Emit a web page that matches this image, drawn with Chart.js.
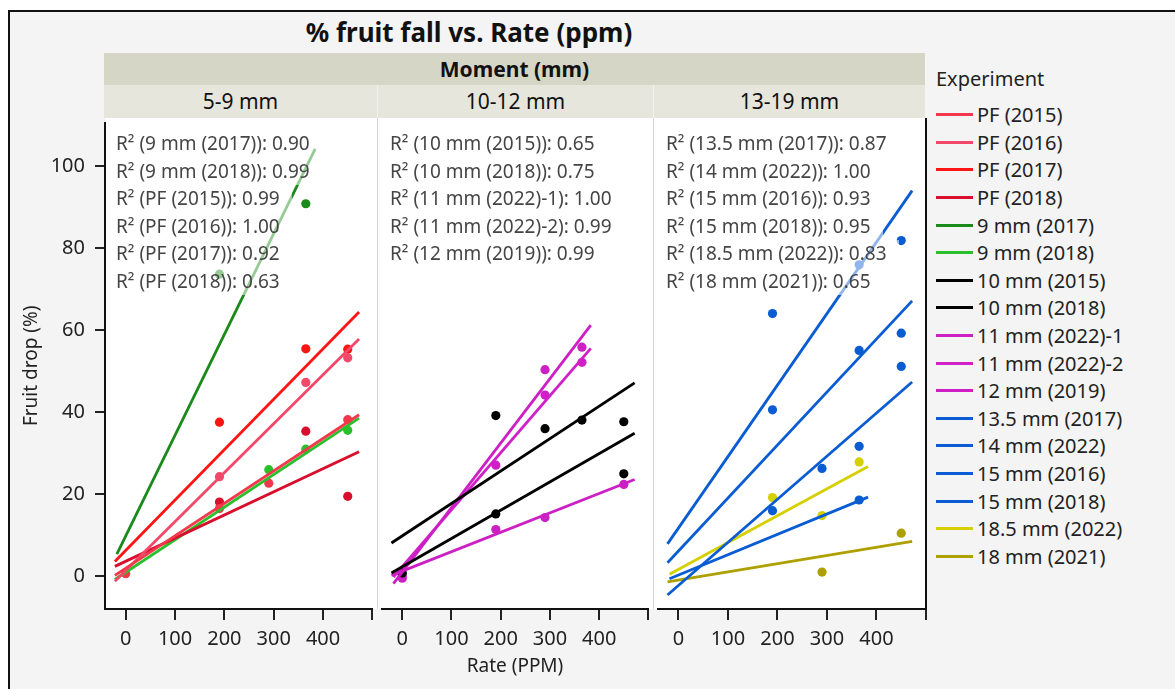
<!DOCTYPE html>
<html><head><meta charset="utf-8">
<script src="https://cdn.jsdelivr.net/npm/chart.js@4.4.1/dist/chart.umd.min.js"></script>
<style>
html,body{margin:0;padding:0;background:#fff;width:1175px;height:689px;overflow:hidden;font-family:"Noto Sans",sans-serif;}
.abs{position:absolute;}
#frame{left:8px;top:10px;width:1200px;height:720px;border:2px solid #111;background:#f4f4f4;box-sizing:border-box;}
#title{left:0;width:938px;top:13px;height:38px;line-height:38px;text-align:center;font-weight:bold;font-size:26px;color:#111;}
#band1{left:104px;top:53px;width:821px;height:32px;line-height:32px;background:#d6d6c7;text-align:center;font-weight:bold;font-size:21px;color:#111;}
.band2{top:85px;height:33px;line-height:33px;background:#e6e6dd;text-align:center;font-size:21px;color:#111;box-sizing:border-box;}
#plotbg{left:105px;top:118px;width:821px;height:491px;background:#fff;}
.sep{top:118px;width:1px;height:491px;background:#d4d4d4;}
#rborder{left:925px;top:118px;width:2px;height:491px;background:#111;}
canvas{position:absolute;}
.note{z-index:5;}
.note div{font-size:19px;line-height:27.5px;height:27.5px;color:#454545;background:rgba(255,255,255,0.55);padding:0 12px 0 0;white-space:nowrap;width:fit-content;}
#legend{left:936px;top:64px;z-index:5;}
#legend .lt{font-size:20px;color:#222;height:30px;line-height:30px;margin-bottom:7px;}
#legend .row{height:27.6px;display:flex;align-items:center;font-size:20px;color:#222;white-space:nowrap;}
#legend .sw{width:37px;height:3px;margin-right:4px;}
</style></head>
<body>
<div id="frame" class="abs"></div>
<div id="title" class="abs">% fruit fall vs. Rate (ppm)</div>
<div id="band1" class="abs">Moment (mm)</div>
<div id="plotbg" class="abs"></div>
<div class="abs sep" style="left:377px"></div>
<div class="abs sep" style="left:653px"></div>
<div id="rborder" class="abs"></div>
<canvas id="c0" width="377" height="571" style="left:0px;top:118px"></canvas>
<canvas id="c1" width="276" height="571" style="left:377px;top:118px"></canvas>
<canvas id="c2" width="282" height="571" style="left:653px;top:118px"></canvas>
<div id="legend" class="abs"></div>
<script>
// ---------- data ----------
const panelNames = ['5-9 mm', '10-12 mm', '13-19 mm'];
const experiments = ['PF (2015)', 'PF (2016)', 'PF (2017)', 'PF (2018)', '9 mm (2017)', '9 mm (2018)',
  '10 mm (2015)', '10 mm (2018)', '11 mm (2022)-1', '11 mm (2022)-2', '12 mm (2019)',
  '13.5 mm (2017)', '14 mm (2022)', '15 mm (2016)', '15 mm (2018)', '18.5 mm (2022)', '18 mm (2021)'];
const experimentPanel = [0, 0, 0, 0, 0, 0, 1, 1, 1, 1, 1, 2, 2, 2, 2, 2, 2];
const rSquared = [0.99, 1.00, 0.92, 0.63, 0.90, 0.99, 0.65, 0.75, 1.00, 0.99, 0.99, 0.87, 1.00, 0.93, 0.95, 0.83, 0.65];
// order in which R² notes are listed in each panel
const notesPanel0 = [4, 5, 0, 1, 2, 3];
const notesPanel1 = [6, 7, 8, 9, 10];
const notesPanel2 = [11, 12, 13, 14, 15, 16];

// observed points (experiment index, rate ppm, fruit drop %)
const panel0Exp  = [0, 0, 0, 0, 1, 1, 1, 2, 2, 2, 3, 3, 3, 4, 4, 5, 5, 5];
const panel0Rate = [0, 190, 290, 450, 190, 365, 450, 190, 365, 450, 190, 365, 450, 190, 365, 290, 365, 450];
const panel0Drop = [0.6, 16.5, 22.7, 38.2, 24.3, 47.3, 53.3, 37.6, 55.5, 55.4, 18.1, 35.4, 19.5, 73.7, 90.9, 26.0, 31.0, 35.6];
const panel1Exp  = [6, 6, 6, 6, 6, 7, 7, 8, 8, 8, 9, 9, 9, 10, 10, 10, 10];
const panel1Rate = [0, 190, 290, 365, 450, 190, 450, 0, 290, 365, 190, 290, 365, 0, 190, 290, 450];
const panel1Drop = [0.8, 39.2, 36.0, 38.1, 37.7, 15.2, 25.0, -0.5, 50.4, 55.9, 27.1, 44.2, 52.2, 0.2, 11.4, 14.3, 22.4];
const panel2Exp  = [11, 11, 11, 12, 13, 13, 13, 14, 14, 14, 14, 15, 15, 15, 16, 16];
const panel2Rate = [190, 365, 450, 365, 190, 365, 450, 190, 290, 365, 450, 190, 290, 365, 290, 450];
const panel2Drop = [64.1, 76.0, 81.9, 18.6, 40.6, 55.1, 59.3, 16.0, 26.3, 31.7, 51.2, 19.2, 14.8, 27.9, 1.0, 10.5];

// fitted lines (start / end)
const fitStartRate = [-22, -22, -22, -22, -18, -22, -22, -22, -18, -18, -22, -22, -18, -22, -22, -18, -22];
const fitStartDrop = [0.2, -1.2, 3.6, 2.4, 5.4, -0.8, 8.1, 0.8, -1.8, -0.2, 0.2, 7.9, -0.6, 3.3, -4.6, 0.5, -1.4];
const fitEndRate   = [473, 473, 473, 473, 384, 473, 472, 472, 383, 383, 472, 472, 383, 472, 472, 383, 472];
const fitEndDrop   = [39.4, 57.9, 64.5, 30.4, 104.3, 38.6, 47.2, 34.9, 61.3, 55.6, 23.6, 94.1, 19.3, 67.2, 47.4, 26.8, 8.5];

const xTickValues = [0, 100, 200, 300, 400];
const yTickValues = [0, 20, 40, 60, 80, 100];

// ---------- styles ----------
const experimentColors = ['#f2384c', '#f2486a', '#ff1414', '#d80f2c', '#1a8a1a', '#2cbf2c',
  '#000000', '#000000', '#cc1fc4', '#d020c8', '#cc1fc4',
  '#0a5cd2', '#0a5cd2', '#0a5cd2', '#0a5cd2', '#d6d000', '#aea000'];
const FONT = '"Noto Sans", sans-serif';
const X_MIN = -42, X_MAX = 500, Y_MIN = -8, Y_MAX = 110.7;
const panelLeft = [105, 377, 653];
const panelWidth = [272, 276, 273];

// header strips
panelNames.forEach((n, i) => {
  const d = document.createElement('div');
  d.className = 'abs band2';
  d.style.left = (i === 0 ? 104 : panelLeft[i]) + 'px';
  d.style.width = (i === 0 ? 273 : (i === 2 ? 272 : panelWidth[i])) + 'px';
  if (i > 0) d.style.borderLeft = '1px solid #f2f2ec';
  d.textContent = n;
  document.body.appendChild(d);
});

// R² notes
const noteLists = [notesPanel0, notesPanel1, notesPanel2];
const noteLeft = [116, 390, 666];
noteLists.forEach((list, p) => {
  const d = document.createElement('div');
  d.className = 'abs note';
  d.style.left = noteLeft[p] + 'px';
  d.style.top = '130px';
  d.innerHTML = list.map(i => '<div>R² (' + experiments[i] + '): ' + rSquared[i].toFixed(2) + '</div>').join('');
  document.body.appendChild(d);
});

// legend
const lg = document.getElementById('legend');
lg.innerHTML = '<div class="lt">Experiment</div>' + experiments.map((e, i) =>
  '<div class="row"><div class="sw" style="background:' + experimentColors[i] + '"></div>' + e + '</div>').join('');

const panelPoints = [[panel0Exp, panel0Rate, panel0Drop], [panel1Exp, panel1Rate, panel1Drop], [panel2Exp, panel2Rate, panel2Drop]];

function makePanel(p) {
  const datasets = [];
  experiments.forEach((e, i) => {
    if (experimentPanel[i] !== p) return;
    datasets.push({
      type: 'line', label: e + ' fit',
      data: [{x: fitStartRate[i], y: fitStartDrop[i]}, {x: fitEndRate[i], y: fitEndDrop[i]}],
      borderColor: experimentColors[i], borderWidth: 2.8, pointRadius: 0, fill: false, tension: 0
    });
  });
  experiments.forEach((e, i) => {
    if (experimentPanel[i] !== p) return;
    const [ex, rt, dr] = panelPoints[p];
    const pts = [];
    ex.forEach((k, j) => { if (k === i) pts.push({x: rt[j], y: dr[j]}); });
    datasets.push({
      type: 'scatter', label: e, data: pts,
      backgroundColor: experimentColors[i], borderWidth: 0, pointRadius: 4.6, pointHoverRadius: 4.6
    });
  });
  const isFirst = p === 0;
  new Chart(document.getElementById('c' + p), {
    type: 'scatter',
    data: {datasets},
    options: {
      responsive: false, animation: false, devicePixelRatio: 1,
      layout: {padding: {left: 0, right: p === 2 ? 9 : 0, top: 0, bottom: 0}},
      plugins: {legend: {display: false}, tooltip: {enabled: false}},
      scales: {
        x: {
          type: 'linear', min: X_MIN, max: X_MAX,
          afterBuildTicks: s => { s.ticks = xTickValues.concat([X_MAX]).map(v => ({value: v})); },
          afterFit: s => { s.height = 80; s.paddingLeft = 0; s.paddingRight = 0; },
          ticks: {autoSkip: false, maxRotation: 0, padding: 7, color: '#222',
            font: {family: FONT, size: 20},
            callback: v => (v === X_MAX ? '' : String(v))},
          grid: {drawOnChartArea: false, drawTicks: true, tickLength: 11, color: '#222', tickWidth: 2, lineWidth: 2},
          border: {display: true, color: '#111', width: 2},
          title: {display: p === 1, text: 'Rate (PPM)', color: '#222', font: {family: FONT, size: 19},
            padding: {top: 0, bottom: 11}}
        },
        y: {
          type: 'linear', min: Y_MIN, max: Y_MAX, display: isFirst,
          afterBuildTicks: s => { s.ticks = yTickValues.map(v => ({value: v})); },
          afterFit: s => { s.width = isFirst ? 105 : 0; s.paddingTop = 0; s.paddingBottom = 0; },
          ticks: {padding: 10, color: '#222', font: {family: FONT, size: 20}},
          grid: {drawOnChartArea: false, drawTicks: true, tickLength: 10, color: '#222', tickWidth: 2, lineWidth: 2},
          border: {display: true, color: '#111', width: 2},
          title: {display: true, text: 'Fruit drop (%)', color: '#222', font: {family: FONT, size: 19},
            padding: {top: 20, bottom: 0}}
        }
      }
    }
  });
}
[0, 1, 2].forEach(makePanel);
</script>
</body></html>
